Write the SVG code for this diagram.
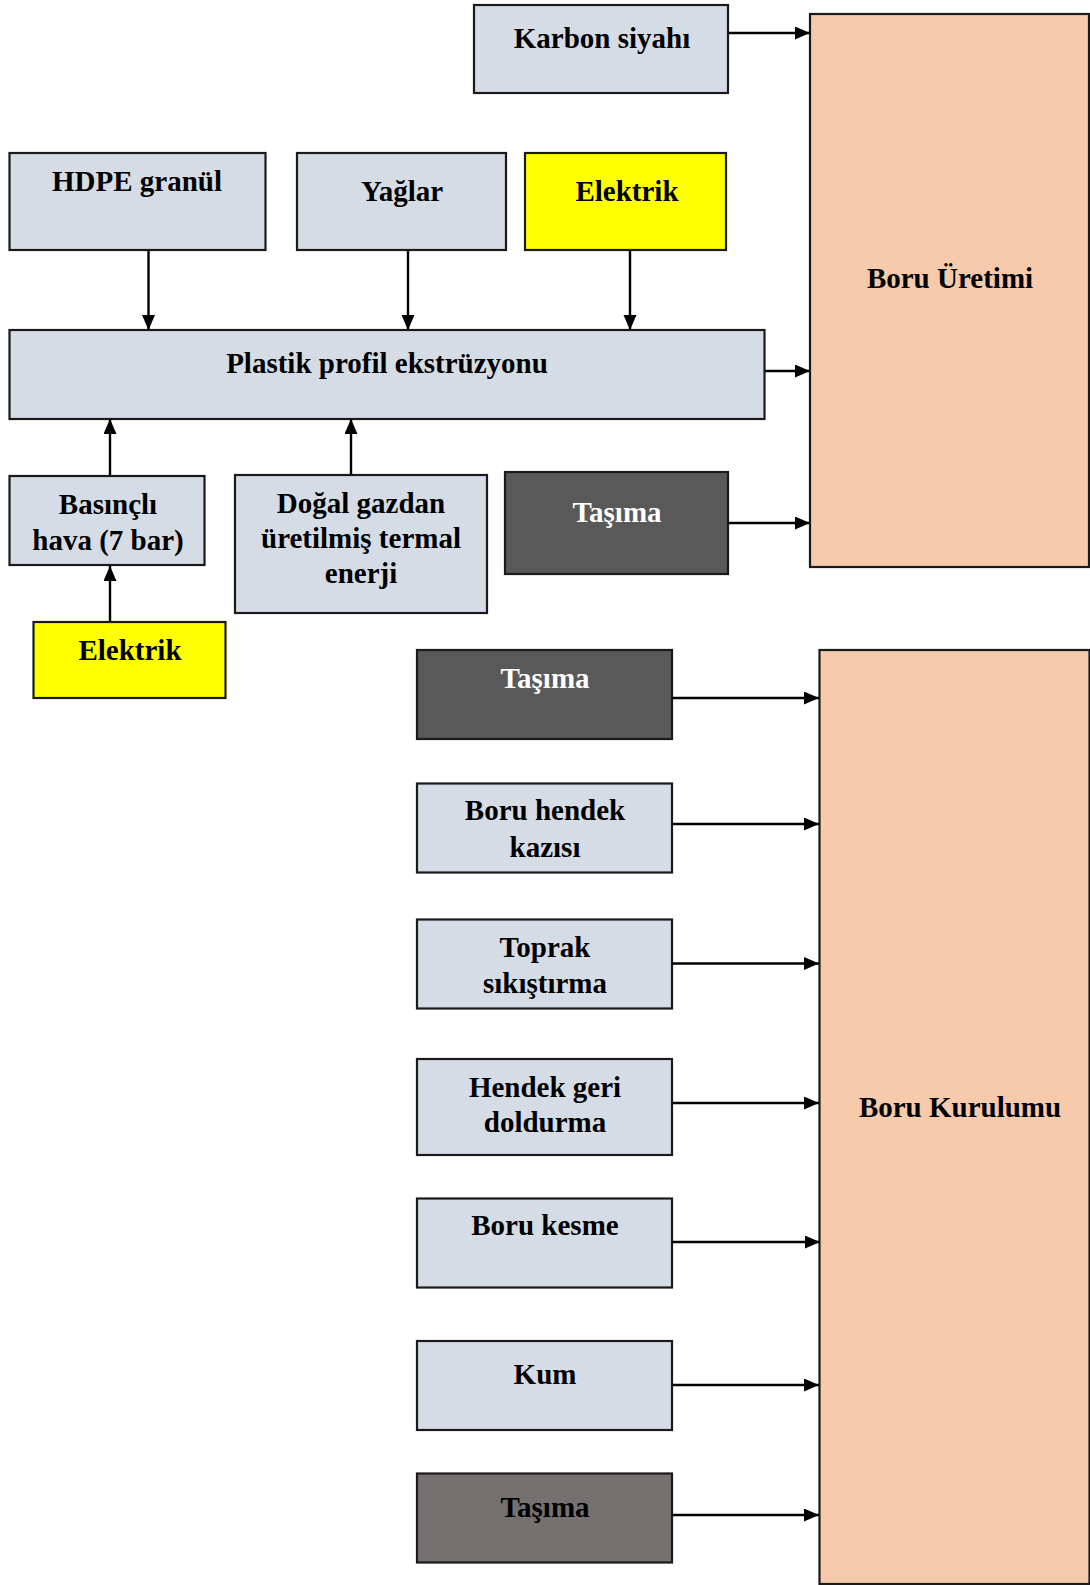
<svg xmlns="http://www.w3.org/2000/svg" width="1090" height="1585" viewBox="0 0 1090 1585">
<style>
rect{stroke:#1a1a1a;stroke-width:2.2}
.l{fill:#d6dce5}
.y{fill:#ffff00}
.d{fill:#595959}
.g{fill:#767171}
.p{fill:#f7caac}
text{font-family:"Liberation Serif","Times New Roman",serif;font-weight:bold;font-size:29px;text-anchor:middle;fill:#000}
text.w{fill:#fff}
.c line{stroke:#000;stroke-width:2.4;marker-end:url(#ah)}
</style>
<defs>
<marker id="ah" markerUnits="userSpaceOnUse" markerWidth="16" markerHeight="14" refX="15" refY="6.5" orient="auto">
<path d="M0,0 L15,6.5 L0,13 Z" fill="#000"/>
</marker>
</defs>
<g id="boru-uretimi"><rect class="p" x="810" y="14" width="279" height="553"/><text x="950" y="288">Boru Üretimi</text></g>
<g id="boru-kurulumu"><rect class="p" x="819.5" y="650" width="270" height="934"/><text x="960" y="1117">Boru Kurulumu</text></g>
<g id="karbon"><rect class="l" x="474" y="5" width="254" height="88"/><text x="602" y="48">Karbon siyahı</text></g>
<g id="hdpe"><rect class="l" x="9.5" y="153" width="256" height="97"/><text x="137" y="191">HDPE granül</text></g>
<g id="yaglar"><rect class="l" x="297" y="153" width="209" height="97"/><text x="402" y="201">Yağlar</text></g>
<g id="elektrik1"><rect class="y" x="525" y="153" width="201" height="97"/><text x="627" y="201">Elektrik</text></g>
<g id="plastik"><rect class="l" x="9.5" y="330" width="755" height="89"/><text x="387" y="373">Plastik profil ekstrüzyonu</text></g>
<g id="basincli"><rect class="l" x="9.5" y="476" width="195" height="89"/><text x="108" y="514">Basınçlı</text><text x="108" y="550">hava (7 bar)</text></g>
<g id="dogalgaz"><rect class="l" x="235" y="475" width="252" height="138"/><text x="361" y="513">Doğal gazdan</text><text x="361" y="548">üretilmiş termal</text><text x="361" y="583">enerji</text></g>
<g id="tasima1"><rect class="d" x="505" y="472" width="223" height="102"/><text class="w" x="617" y="522">Taşıma</text></g>
<g id="elektrik2"><rect class="y" x="33.5" y="622" width="192" height="76"/><text x="130" y="660">Elektrik</text></g>
<g id="tasima2"><rect class="d" x="417" y="650" width="255" height="89"/><text class="w" x="545" y="688">Taşıma</text></g>
<g id="hendek-kazisi"><rect class="l" x="417" y="783.5" width="255" height="89"/><text x="545" y="820">Boru hendek</text><text x="545" y="857">kazısı</text></g>
<g id="toprak"><rect class="l" x="417" y="919.5" width="255" height="89"/><text x="545" y="957">Toprak</text><text x="545" y="993">sıkıştırma</text></g>
<g id="geri-doldurma"><rect class="l" x="417" y="1059" width="255" height="96"/><text x="545" y="1097">Hendek geri</text><text x="545" y="1132">doldurma</text></g>
<g id="boru-kesme"><rect class="l" x="417" y="1198.5" width="255" height="89"/><text x="545" y="1235">Boru kesme</text></g>
<g id="kum"><rect class="l" x="417" y="1341" width="255" height="89"/><text x="545" y="1384">Kum</text></g>
<g id="tasima3"><rect class="g" x="417" y="1473.5" width="255" height="89"/><text x="545" y="1517">Taşıma</text></g>
<g id="connectors" class="c">
<line x1="728" y1="33" x2="810" y2="33"/>
<line x1="765" y1="371" x2="810" y2="371"/>
<line x1="728" y1="523" x2="810" y2="523"/>
<line x1="148.5" y1="250" x2="148.5" y2="330"/>
<line x1="408" y1="250" x2="408" y2="330"/>
<line x1="630" y1="250" x2="630" y2="330"/>
<line x1="110" y1="475" x2="110" y2="419"/>
<line x1="351" y1="475" x2="351" y2="419"/>
<line x1="110" y1="622" x2="110" y2="566"/>
<line x1="672" y1="698" x2="819" y2="698"/>
<line x1="672" y1="824" x2="819" y2="824"/>
<line x1="672" y1="963.5" x2="819" y2="963.5"/>
<line x1="672" y1="1103" x2="819" y2="1103"/>
<line x1="672" y1="1242" x2="820" y2="1242"/>
<line x1="672" y1="1385" x2="819" y2="1385"/>
<line x1="672" y1="1515" x2="819" y2="1515"/>
</g>
</svg>
